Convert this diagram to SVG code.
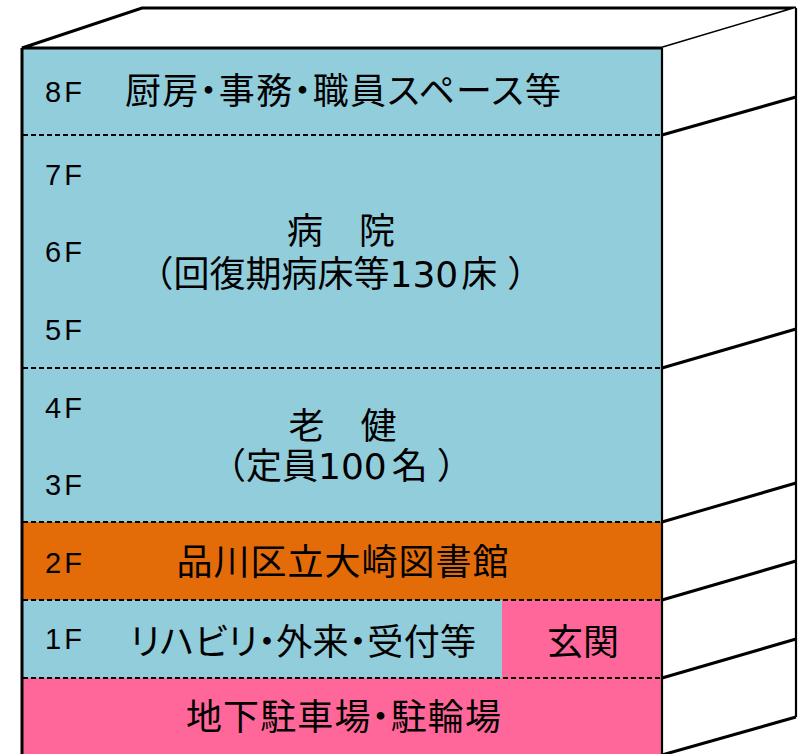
<svg xmlns="http://www.w3.org/2000/svg" width="805" height="754" viewBox="0 0 805 754">
<style>
.blue{fill:#92CDDC}
.orange{fill:#E36C09}
.pink{fill:#FF6699}
.dash{stroke:#000;stroke-width:2;stroke-dasharray:5 3;fill:none}
.edge{stroke:#000;stroke-width:3;fill:none;stroke-linejoin:miter}
.thin{stroke:#000;stroke-width:2.2;fill:none}
.lbl{font-family:"Liberation Sans",Arial,sans-serif;font-size:29px;letter-spacing:3px;fill:#000}
.jp{font-family:"Noto Sans CJK JP","Noto Sans CJK SC",sans-serif;font-size:36px;fill:#000}
.palt{font-feature-settings:"palt"}
.dg{font-family:"DejaVu Sans",sans-serif}
</style>
<rect width="805" height="754" fill="#fff"/>
<g id="floor-8F">
<rect class="blue" x="22" y="48" width="640" height="87"/>
<text class="lbl" x="45" y="102">8F</text>
<text class="jp palt" x="125" y="104" textLength="436" lengthAdjust="spacing">厨房・事務・職員スペース等</text>
</g>
<g id="floor-5F-7F">
<rect class="blue" x="22" y="135" width="640" height="233"/>
<text class="lbl" x="45" y="185">7F</text>
<text class="lbl" x="45" y="262">6F</text>
<text class="lbl" x="45" y="340">5F</text>
<text class="jp" x="341" y="244" text-anchor="middle">病　院</text>
<text class="jp" x="137.5" y="287">（回復期病床等<tspan class="dg">130</tspan><tspan dx="3">床</tspan><tspan dx="10">）</tspan></text>
</g>
<g id="floor-3F-4F">
<rect class="blue" x="22" y="368" width="640" height="154"/>
<text class="lbl" x="45" y="418">4F</text>
<text class="lbl" x="45" y="495">3F</text>
<text class="jp" x="342.5" y="439" text-anchor="middle">老　健</text>
<text class="jp" x="210" y="479">（定員<tspan class="dg">100</tspan><tspan dx="5">名</tspan><tspan dx="9">）</tspan></text>
</g>
<g id="floor-2F">
<rect class="orange" x="22" y="522" width="640" height="78"/>
<text class="lbl" x="45" y="573">2F</text>
<text class="jp" x="176.5" y="574.5" textLength="332" lengthAdjust="spacing">品川区立大崎図書館</text>
</g>
<g id="floor-1F">
<rect class="blue" x="22" y="600" width="480" height="78"/>
<text class="lbl" x="45" y="649">1F</text>
<text class="jp palt" x="130" y="655" textLength="346" lengthAdjust="spacing">リハビリ・外来・受付等</text>
</g>
<g id="entrance">
<rect class="pink" x="502" y="600" width="160" height="78"/>
<text class="jp" x="583" y="655" text-anchor="middle">玄関</text>
</g>
<g id="basement">
<rect class="pink" x="22" y="678" width="640" height="78"/>
<text class="jp palt" x="186" y="730" textLength="315" lengthAdjust="spacing">地下駐車場・駐輪場</text>
</g>
<g id="connectors">
<polygon class="edge" points="22,48 142,8 796,8 662,48" fill="#fff"/>
<polygon points="662,48 796,8 796,717 662,756" fill="#fff"/>
<line class="thin" x1="796" y1="8" x2="796" y2="717"/>
<line class="thin" x1="662" y1="48" x2="662" y2="756"/>
<line class="edge" x1="22" y1="48" x2="22" y2="756"/>
<line class="thin" x1="22" y1="48" x2="662" y2="48"/>
<line class="dash" x1="23" y1="135" x2="661" y2="135"/>
<line class="dash" x1="23" y1="368" x2="661" y2="368"/>
<line class="dash" x1="23" y1="522" x2="661" y2="522"/>
<line class="dash" x1="23" y1="600" x2="661" y2="600"/>
<line class="dash" x1="23" y1="678" x2="661" y2="678"/>
<line class="edge" x1="662" y1="135" x2="796" y2="97"/>
<line class="edge" x1="662" y1="368" x2="796" y2="329"/>
<line class="edge" x1="662" y1="522" x2="796" y2="483"/>
<line class="edge" x1="662" y1="600" x2="796" y2="561"/>
<line class="edge" x1="662" y1="678" x2="796" y2="639"/>
<line class="edge" x1="662" y1="755" x2="796" y2="717"/>
</g>
</svg>
